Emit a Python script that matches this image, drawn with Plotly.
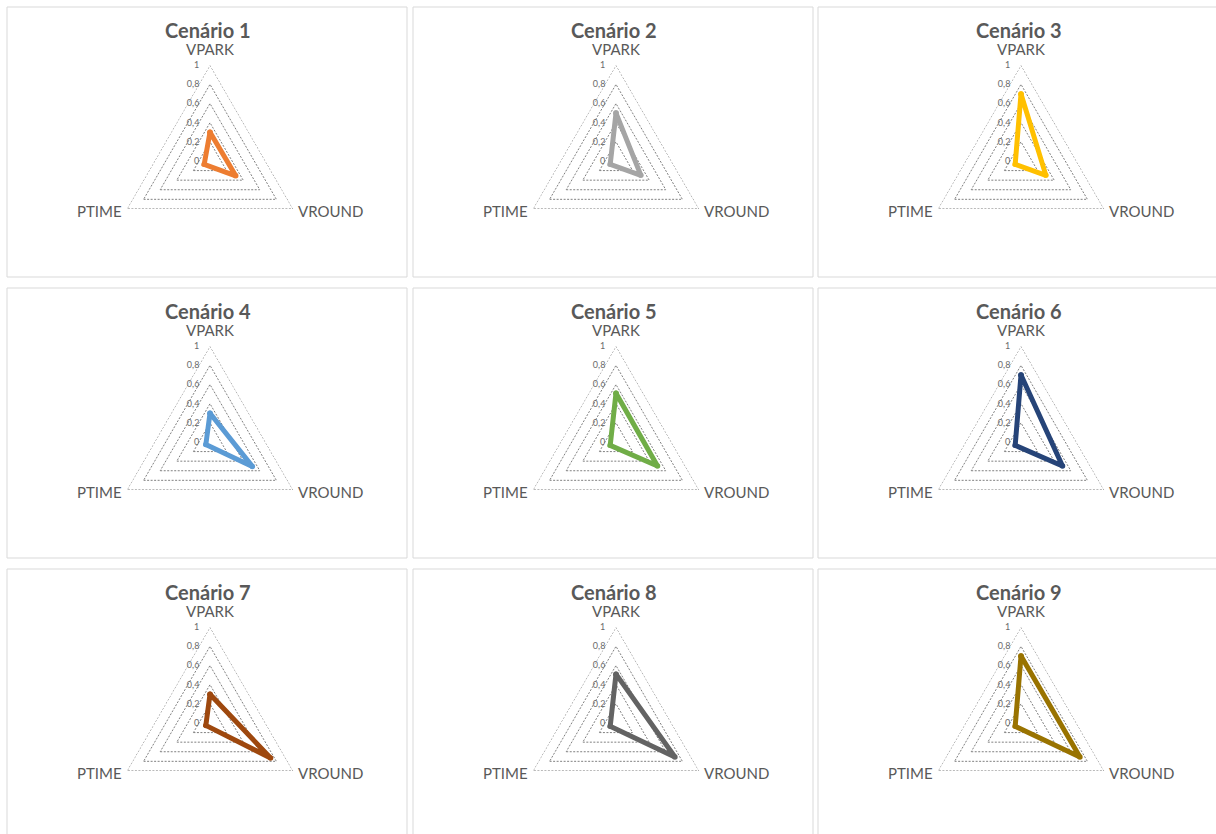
import plotly.graph_objects as go

# Axes of each radar, in clockwise order starting at the top
categories = ["VPARK", "VROUND", "PTIME"]

scenarios = [f"Cenário {i}" for i in range(1, 10)]
vpark = [0.30, 0.50, 0.70, 0.30, 0.51, 0.70, 0.30, 0.51, 0.70]
vround = [0.31, 0.30, 0.30, 0.51, 0.50, 0.50, 0.73, 0.71, 0.71]
ptime = [0.07, 0.07, 0.07, 0.05, 0.07, 0.07, 0.05, 0.07, 0.07]

colors = ["#ED7D31", "#A5A5A5", "#FFC000", "#5B9BD5", "#70AD47",
          "#264478", "#9E480E", "#636363", "#997300"]

radial_ticks = [0, 0.2, 0.4, 0.6, 0.8, 1]
radial_labels = ["0", "0,2", "0,4", "0,6", "0,8", "1"]

W, H = 1216, 834
FONT = "Lato"
TEXT = "#595959"
GRID = "#808080"
GRID_DASH = "2px,1.5px"

panel_x0 = [7, 413, 818]
panel_y0 = [7, 288, 569]
PANEL_W, PANEL_H = 400, 270
R = 96  # radar radius in px

# where each category label sits, relative to the radar centre (px)
label_pos = {
    "VPARK": dict(dx=0, dy=-112, xanchor="center"),
    "VROUND": dict(dx=86, dy=50, xanchor="left"),
    "PTIME": dict(dx=-86, dy=50, xanchor="right"),
}

fig = go.Figure()
layout = dict(
    width=W, height=H,
    margin=dict(l=0, r=0, t=0, b=0),
    paper_bgcolor="white", plot_bgcolor="white",
    showlegend=False,
    separators=",.",
    font=dict(family=FONT, color=TEXT),
)
shapes, annotations = [], []

for i, name in enumerate(scenarios):
    row, col = divmod(i, 3)
    x0, y0 = panel_x0[col], panel_y0[row]
    cx, cy = x0 + 203, y0 + 154

    shapes.append(dict(
        type="rect", xref="paper", yref="paper", layer="below",
        x0=x0 / W, x1=(x0 + PANEL_W) / W,
        y0=1 - (y0 + PANEL_H) / H, y1=1 - y0 / H,
        line=dict(color="#d9d9d9", width=1), fillcolor="white",
    ))
    annotations.append(dict(
        text=f"<b>{name}</b>", xref="paper", yref="paper",
        x=(x0 + 201) / W, y=1 - (y0 + 23) / H,
        xanchor="center", yanchor="middle", showarrow=False,
        font=dict(size=20, color=TEXT, family=FONT),
    ))
    for cat in categories:
        p = label_pos[cat]
        annotations.append(dict(
            text=cat, xref="paper", yref="paper",
            x=(cx + p["dx"]) / W, y=1 - (cy + p["dy"]) / H,
            xanchor=p["xanchor"], yanchor="middle", showarrow=False,
            font=dict(size=15, color=TEXT, family=FONT),
        ))

    key = "polar" if i == 0 else f"polar{i + 1}"
    layout[key] = dict(
        domain=dict(x=[(cx - R) / W, (cx + R) / W],
                    y=[1 - (cy + R) / H, 1 - (cy - R) / H]),
        gridshape="linear",
        bgcolor="rgba(0,0,0,0)",
        radialaxis=dict(
            range=[0, 1.002], tickvals=radial_ticks, ticktext=radial_labels,
            angle=90, tickangle=90, side="counterclockwise",
            showline=False, ticks="outside", ticklen=7,
            tickcolor="rgba(0,0,0,0)",
            gridcolor=GRID, gridwidth=0.9, griddash=GRID_DASH,
            tickfont=dict(size=9, color="#6b6b6b", family=FONT),
        ),
        angularaxis=dict(
            direction="clockwise", rotation=90,
            showgrid=False, showline=False, ticks="",
            showticklabels=False,
        ),
    )

    # outer ring of the grid at the top radial tick
    top = radial_ticks[-1]
    fig.add_trace(go.Scatterpolar(
        r=[top] * (len(categories) + 1), theta=categories + [categories[0]],
        mode="lines", line=dict(color=GRID, width=0.9, dash=GRID_DASH),
        subplot=key, hoverinfo="skip",
    ))

    r_vals = [vpark[i], vround[i], ptime[i]]
    fig.add_trace(go.Scatterpolar(
        r=r_vals + [r_vals[0]], theta=categories + [categories[0]],
        mode="lines+markers",
        line=dict(color=colors[i], width=5),
        marker=dict(color=colors[i], size=5.5),
        subplot=key, hoverinfo="skip",
    ))

layout["shapes"] = shapes
layout["annotations"] = annotations
fig.update_layout(**layout)
fig.write_html("out.html")
